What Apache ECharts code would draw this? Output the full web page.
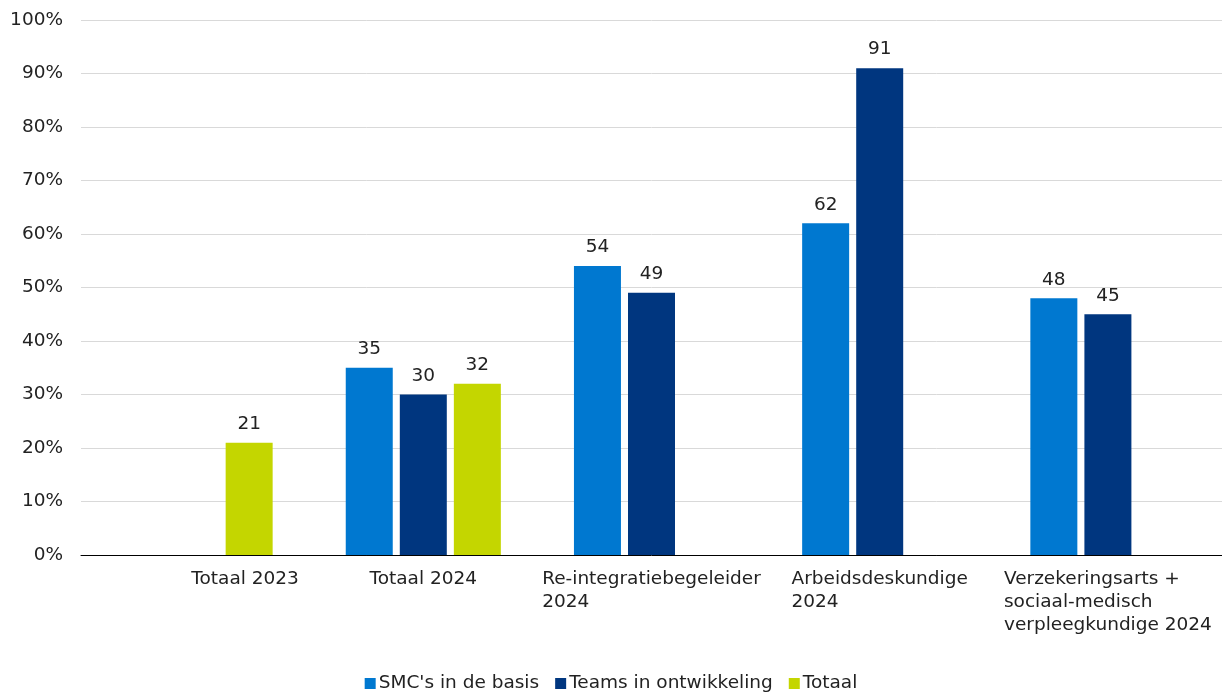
<!DOCTYPE html>
<html>
<head>
<meta charset="utf-8">
<script src="https://cdn.jsdelivr.net/npm/echarts@6/dist/echarts.min.js"></script>
<style>
    html, body { margin: 0; padding: 0; background: #fff; }
    #chart { width: 1222px; height: 698px; }
</style>
</head>
<body>
<div id="chart"></div>
<script>
    "use strict";

    // categories as shown under the axis (line breaks as in the picture)
    var categories = [
        "Totaal 2023",
        "Totaal 2024",
        "Re-integratiebegeleider\n2024",
        "Arbeidsdeskundige\n2024",
        "Verzekeringsarts +\nsociaal-medisch\nverpleegkundige 2024"
    ];
    var seriesNames = ["SMC's in de basis", "Teams in ontwikkeling", "Totaal"];
    var smcBasis = [null, 35, 54, 62, 48];
    var teamsOntw = [null, 30, 49, 91, 45];
    var totaal = [21, 32, null, null, null];
    var yTicks = [0, 10, 20, 30, 40, 50, 60, 70, 80, 90, 100];

    var colors = ["#0078d0", "#00367f", "#c4d600"];
    var font = "'DejaVu Sans', Verdana, sans-serif";
    var fs = 18.5;

    function barSeries(name, data, color) {
        return {
            name: name,
            type: "bar",
            data: data,
            barWidth: 47,
            barGap: "15%",
            itemStyle: { color: color },
            label: {
                show: true,
                position: "top",
                distance: 9,
                color: "#222",
                fontSize: fs,
                fontFamily: font
            }
        };
    }

    var chart = echarts.init(document.getElementById("chart"));
    chart.setOption({
        animation: false,
        textStyle: { fontFamily: font },
        grid: { left: 81, right: 0, top: 20, bottom: 143, containLabel: false },
        legend: {
            bottom: 0,
            left: "center",
            itemWidth: 11,
            itemHeight: 11,
            itemGap: 16,
            icon: "rect",
            textStyle: { fontSize: fs, color: "#222", fontFamily: font, padding: [0, 0, 0, -2] },
            data: seriesNames
        },
        xAxis: {
            type: "category",
            data: categories,
            axisLine: { lineStyle: { color: "#000", width: 1 } },
            axisTick: { show: false },
            axisLabel: {
                interval: 0,
                margin: 13,
                color: "#222",
                fontSize: fs,
                fontFamily: font,
                formatter: function (value, idx) {
                    var lines = value.split("\n").map(function (l) { return "{a|" + l + "}"; });
                    if (idx === 0) lines[0] = "{sp|}" + lines[0];
                    return lines.join("\n");
                },
                rich: {
                    a: { align: "left", fontSize: fs, lineHeight: 23, color: "#222", fontFamily: font },
                    sp: { width: 100 }
                }
            }
        },
        yAxis: {
            type: "value",
            min: yTicks[0],
            max: yTicks[yTicks.length - 1],
            interval: 10,
            axisLine: { show: false },
            axisTick: { show: false },
            splitLine: { lineStyle: { color: "#d9d9d9", width: 1 } },
            axisLabel: {
                margin: 18,
                color: "#222",
                fontSize: fs,
                fontFamily: font,
                formatter: "{value}%"
            }
        },
        series: [
            barSeries(seriesNames[0], smcBasis, colors[0]),
            barSeries(seriesNames[1], teamsOntw, colors[1]),
            barSeries(seriesNames[2], totaal, colors[2])
        ]
    });
</script>
</body>
</html>
